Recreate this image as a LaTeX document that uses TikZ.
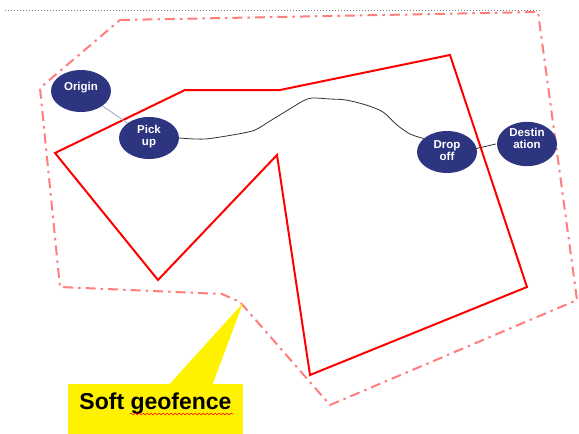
\documentclass[tikz,border=0pt]{standalone}
\usepackage{fontspec}
\setmainfont{Liberation Sans}
\usetikzlibrary{shapes.geometric,decorations.pathmorphing}
\definecolor{stopblue}{RGB}{45,52,128}
\definecolor{softred}{RGB}{255,125,125}
\tikzset{
  stop/.style={ellipse, fill=stopblue, minimum width=60pt, minimum height=42pt, inner sep=0pt,
    text=white, font=\fontsize{11.5}{12}\selectfont\bfseries, align=center},
  hardfence/.style={red, line width=2pt, line join=miter},
  softfence/.style={softred, line width=2pt, dash pattern=on 10pt off 5pt on 2.5pt off 5pt},
}
\begin{document}
\begin{tikzpicture}[x=1pt,y=-1pt]
                    \useasboundingbox (0,0) rectangle (579,434);
                    \draw[gray, dotted, line width=1pt] (5,10) -- (540,10);
                    % soft geofence
                    \draw[softfence] (120,20) -- (538,12) -- (577,300) -- (330,405) -- (240,302) -- (222,294) -- (60,287) -- (40,88) -- cycle;
                    % hard geofence
                    \draw[hardfence] (55,153) -- (185,90) -- (280,90) -- (450,55) -- (527,287) -- (310,375) -- (277,155) -- (158,280) -- cycle;
                    \node[stop, text depth=10pt] (origin) at (81,91) {Origin};
                    \node[stop, text depth=5pt] (pickup) at (149,138) {Pick\\up};
                    \node[stop, text depth=3pt] (dropoff) at (447,152) {Drop\\off};
                    \node[stop, text depth=11pt] (destination) at (527,144) {Destin\\ation};
                    \draw[blue!25!gray!60, line width=0.8pt] (origin) -- (pickup);
                    \draw[black!80, line width=0.8pt] plot[smooth, tension=0.5] coordinates {(pickup.east) (205,139) (238,134) (255,130) (270,121) (288,110) (303,101) (312,98) (330,99) (346,100) (366,105) (383,112) (397,125) (410,134) (dropoff.150)};
                    \draw[black!80, line width=0.8pt] (dropoff.center) ++(23,-2) -- ([xshift=-1pt]destination.west);
                    % callout
                    \coordinate (tip) at (243,303);
                    \node[fill=yellow, minimum width=175pt, inner sep=0pt, text height=25pt, text depth=25pt,
                      font=\fontsize{23}{23}\selectfont\bfseries, anchor=base] (callout) at (155.5,409) {Soft geofence};
                    \fill[yellow] ([xshift=102pt]callout.north west) -- (tip) -- ([xshift=145pt]callout.north west) -- cycle;
                    \draw[red, line width=0.5pt, decorate, decoration={snake, amplitude=0.9pt, segment length=4pt}] (130,414) -- (233,414);
                \end{tikzpicture}
\end{document}
